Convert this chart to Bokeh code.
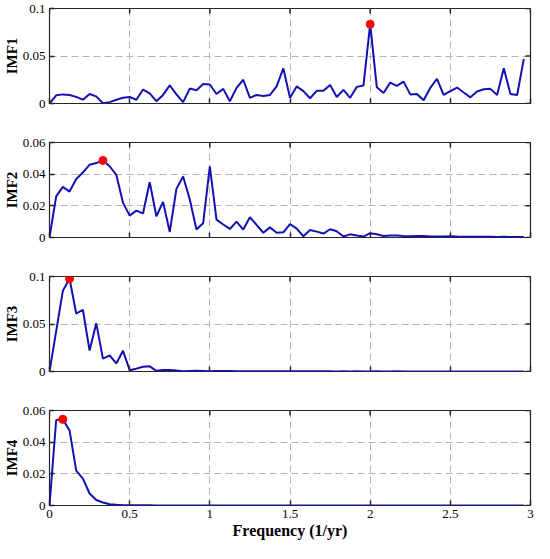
import numpy as np
from bokeh.plotting import figure
from bokeh.layouts import column
from bokeh.models import (Range1d, FixedTicker, CustomJSTickFormatter)
from bokeh.embed import file_html
from bokeh.resources import INLINE

# ---------------- data ----------------
freq = np.arange(72) / 24.0   # frequency (1/yr)

imf1 = [0, 0.0086, 0.0096, 0.009, 0.007, 0.004, 0.010, 0.0075, 0.0003, 0.0014,
        0.004, 0.006, 0.0068, 0.004, 0.0147, 0.0106, 0.0024, 0.009, 0.019, 0.0096,
        0.0014, 0.0157, 0.014, 0.0205, 0.020, 0.010, 0.0154, 0.0024, 0.0164, 0.025,
        0.006, 0.009, 0.008, 0.009, 0.018, 0.037,
        0.006, 0.018, 0.013, 0.0055, 0.0133, 0.0133, 0.0195, 0.0068, 0.0144, 0.006,
        0.0175, 0.019, 0.0835, 0.017, 0.011, 0.022, 0.0185, 0.023, 0.0096, 0.010,
        0.0034, 0.0164, 0.026, 0.009, 0.013, 0.0168, 0.0116, 0.0065, 0.0127, 0.015,
        0.0154, 0.009, 0.037, 0.010, 0.009, 0.047]

imf2 = [0, 0.026, 0.032, 0.029, 0.037, 0.041, 0.046, 0.047, 0.0487, 0.045,
        0.0396, 0.022, 0.0138, 0.017, 0.0152, 0.035, 0.0134, 0.0225, 0.0035, 0.0307,
        0.0385, 0.024, 0.005, 0.009, 0.045, 0.0113, 0.0082, 0.0054, 0.010, 0.005,
        0.0128, 0.008, 0.003, 0.0064, 0.003, 0.0033,
        0.0085, 0.0056, 0.0008, 0.0047, 0.0037, 0.0025, 0.0052, 0.004, 0.0006, 0.002,
        0.0012, 0.0006, 0.0027, 0.002, 0.001, 0.0012, 0.0013, 0.001, 0.0008, 0.001,
        0.0009, 0.0007, 0.0006, 0.0007, 0.0008, 0.0006, 0.0005, 0.0005, 0.0004, 0.0005,
        0.0004, 0.0003, 0.0004, 0.0003, 0.0003, 0.0003]

imf3 = [0, 0.0425, 0.085, 0.0976, 0.061, 0.065, 0.022, 0.0507, 0.0136, 0.017,
        0.0085, 0.0218, 0.0014, 0.003, 0.005, 0.0054, 0.0007, 0.0017, 0.0017, 0.001,
        0.0003, 0.0006, 0.0008, 0.0006, 0.0003, 0.0004, 0.0005, 0.0004, 0.0003, 0.0003,
        0.0003, 0.0003, 0.0002, 0.0003, 0.0002, 0.0002, 0.0003, 0.0002, 0.0002, 0.0002,
        0.0002, 0.0002, 0.0002, 0.0001, 0.0002, 0.0001, 0.0002, 0.0001, 0.0001, 0.0002,
        0.0001, 0.0001, 0.0002, 0.0001, 0.0001, 0.0001, 0.0001, 0.0001, 0.0001, 0.0001,
        0.0001, 0.0001, 0.0001, 0.0001, 0.0001, 0.0001, 0.0001, 0.0001, 0.0001, 0.0001,
        0.0001, 0.0001]

imf4 = [0, 0.054, 0.0544, 0.0474, 0.022, 0.017, 0.0076, 0.0035, 0.0019, 0.0008,
        0.0004, 0.0002, 0.0001, 0.0001, 0.0001, 0.0001, 0, 0, 0, 0,
        0, 0, 0, 0, 0, 0, 0, 0, 0, 0,
        0, 0, 0, 0, 0, 0, 0, 0, 0, 0,
        0, 0, 0, 0, 0, 0, 0, 0, 0, 0,
        0, 0, 0, 0, 0, 0, 0, 0, 0, 0,
        0, 0, 0, 0, 0, 0, 0, 0, 0, 0,
        0, 0]

series = [("IMF1", imf1, 0.1, [0, 0.05, 0.1]),
          ("IMF2", imf2, 0.06, [0, 0.02, 0.04, 0.06]),
          ("IMF3", imf3, 0.1, [0, 0.05, 0.1]),
          ("IMF4", imf4, 0.06, [0, 0.02, 0.04, 0.06])]

x_ticks = [0, 0.5, 1, 1.5, 2, 2.5, 3]
x_max = 3

# ---------------- style ----------------
FONT = "'Liberation Serif', 'Times New Roman', serif"
LINE_COLOR = "#1212b4"
AX_COLOR = "#262626"
GRID_COLOR = "#b4b4b4"

num_fmt = CustomJSTickFormatter(code="return String(Math.round(tick*1000)/1000);")
blank_fmt = CustomJSTickFormatter(code="return '';")

W = 534
figs = []
for i, (name, vals, ymax, yt) in enumerate(series):
    last = (i == len(series) - 1)
    h = 141 if last else 134
    p = figure(width=W, height=h, output_backend="svg", toolbar_location=None,
               x_range=Range1d(0, x_max), y_range=Range1d(0, ymax),
               min_border_left=44, min_border_right=4, min_border_top=8,
               min_border_bottom=38 if last else 31,
               background_fill_color="white", border_fill_color="white",
               outline_line_color=AX_COLOR, outline_line_width=1.2)

    # main axes
    for ax in (p.xaxis[0], p.yaxis[0]):
        ax.axis_line_color = None
        ax.major_tick_in = 5
        ax.major_tick_out = 0
        ax.major_tick_line_color = AX_COLOR
        ax.major_tick_line_width = 1.5
        ax.minor_tick_line_color = None
        ax.major_label_text_font = FONT
        ax.major_label_text_font_size = "13px"
        ax.major_label_text_color = "black"
        ax.axis_label_text_font = FONT
        ax.axis_label_text_font_size = "15px"
        ax.axis_label_text_font_style = "bold"
        ax.axis_label_text_color = "black"

    p.xaxis[0].ticker = FixedTicker(ticks=x_ticks)
    p.yaxis[0].ticker = FixedTicker(ticks=yt)
    p.yaxis[0].formatter = num_fmt
    p.yaxis[0].major_label_standoff = 4
    p.yaxis[0].axis_label = name
    p.yaxis[0].axis_label_standoff = 0

    if last:
        p.xaxis[0].formatter = num_fmt
        p.xaxis[0].major_label_standoff = 4
        p.xaxis[0].axis_label = "Frequency (1/yr)"
        p.xaxis[0].axis_label_text_font_size = "16px"
        p.xaxis[0].axis_label_standoff = 1
    else:
        p.xaxis[0].formatter = blank_fmt
        p.xaxis[0].major_label_text_font_size = "0px"
        p.xaxis[0].major_label_standoff = 0
        p.xaxis[0].axis_label_standoff = 0

    # grid
    p.xgrid.ticker = FixedTicker(ticks=x_ticks)
    p.ygrid.ticker = FixedTicker(ticks=yt)
    for g in (p.xgrid[0], p.ygrid[0]):
        g.grid_line_color = GRID_COLOR
        g.grid_line_dash = "7 4"
        g.grid_line_width = 1

    # inward box ticks on the top and right edges (at the tick positions)
    p.ray(x=x_ticks, y=[ymax] * len(x_ticks), length=5, length_units="screen",
          angle=-np.pi / 2, line_color=AX_COLOR, line_width=1.5)
    p.ray(x=[x_max] * len(yt), y=yt, length=5, length_units="screen",
          angle=np.pi, line_color=AX_COLOR, line_width=1.5)

    # data
    p.line(freq, vals, line_color=LINE_COLOR, line_width=2)
    k = int(np.argmax(vals))
    p.scatter([freq[k]], [vals[k]], size=8, fill_color="#ff0000",
              line_color="#ff0000")
    figs.append(p)

layout = column(*figs, spacing=0)
open("out.html", "w").write(file_html(layout, INLINE))
